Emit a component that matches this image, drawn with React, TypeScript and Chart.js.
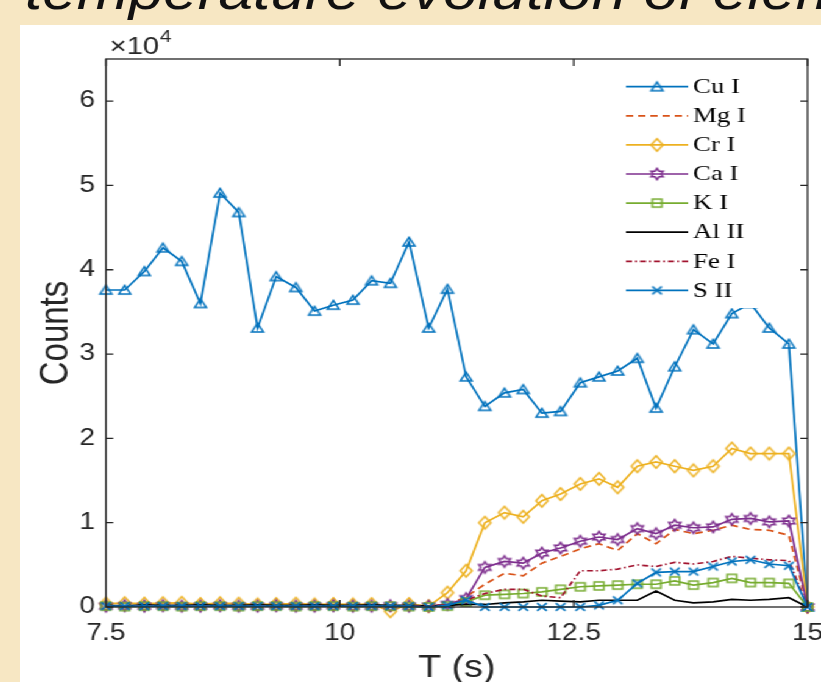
import React, { useEffect, useRef } from 'react';
import { Chart, registerables } from 'chart.js';

Chart.register(...registerables);

// ---- data (counts) ----
const times = [7.5, 7.7, 7.91, 8.11, 8.31, 8.51, 8.72, 8.92, 9.12, 9.32, 9.53, 9.73, 9.93, 10.14, 10.34, 10.54, 10.74, 10.95, 11.15, 11.35, 11.55, 11.76, 11.96, 12.16, 12.36, 12.57, 12.77, 12.97, 13.18, 13.38, 13.58, 13.78, 13.99, 14.19, 14.39, 14.59, 14.8, 15.0];

const cuI = [37600, 37600, 39800, 42600, 41000, 36000, 49100, 46800, 33100, 39200, 37900, 35100, 35800, 36400, 38700, 38400, 43300, 33100, 37700, 27300, 23800, 25400, 25800, 23000, 23200, 26600, 27300, 28000, 29500, 23600, 28500, 32900, 31200, 34800, 36000, 33100, 31200, 0];
const mgI = [100, 150, 100, 100, 150, 100, 100, 150, 100, 100, 150, 100, 100, 150, 100, 100, 150, 100, 300, 1200, 2700, 4000, 3700, 5200, 6000, 6900, 7500, 6700, 8700, 7500, 9200, 8700, 9100, 9700, 9200, 9100, 8500, 0];
const crI = [400, 450, 400, 450, 500, 350, 450, 400, 300, 350, 400, 300, 350, 300, 350, -500, 350, 100, 1700, 4300, 10000, 11200, 10700, 12600, 13400, 14600, 15200, 14200, 16700, 17200, 16700, 16200, 16700, 18800, 18200, 18200, 18200, 0];
const caI = [100, 150, 100, 150, 100, 100, 150, 100, 100, 150, 100, 100, 150, 100, 100, 150, 100, 100, 300, 1000, 4700, 5400, 5200, 6400, 7000, 7800, 8300, 8000, 9300, 8700, 9700, 9400, 9500, 10400, 10500, 10100, 10200, 0];
const kI = [100, 50, 100, 100, 50, 100, 100, 50, 100, 100, 50, 100, 100, 50, 100, 100, 50, 0, 100, 600, 1400, 1500, 1600, 1800, 2100, 2400, 2500, 2600, 2700, 2700, 3100, 2600, 2900, 3400, 2900, 2900, 2800, 0];
const alII = [200, 150, 250, 200, 200, 250, 200, 200, 250, 200, 200, 250, 200, 200, 250, 200, 200, 100, 200, 300, 300, 500, 600, 800, 700, 600, 800, 800, 800, 1900, 800, 500, 600, 900, 800, 900, 1100, 0];
const feI = [100, 100, 150, 100, 100, 150, 100, 100, 150, 100, 100, 150, 100, 100, 150, 100, 100, 100, 300, 800, 1600, 2100, 2100, 1300, 1100, 4300, 4300, 4500, 5000, 4800, 5300, 5100, 5400, 6000, 5800, 5600, 5500, 0];
const sII = [100, 100, 100, 100, 100, 100, 100, 100, 100, 100, 100, 100, 100, 100, 100, 100, 100, 0, 200, 800, 0, 0, 0, 0, 0, 0, 200, 800, 2800, 4100, 4200, 4200, 4800, 5400, 5600, 5100, 4900, 0];

const seriesNames = ['Cu I', 'Mg I', 'Cr I', 'Ca I', 'K I', 'Al II', 'Fe I', 'S II'];
const seriesValues = [cuI, mgI, crI, caI, kI, alII, feI, sII];

const xTickValues = [7.5, 10, 12.5, 15];
const yTickValues = [0, 10000, 20000, 30000, 40000, 50000, 60000];
const xTitle = 'T (s)';
const yTitle = 'Counts';
const pageTitle = 'temperature evolution of elements';

// ---- styles ----
const seriesColors = ['#0072BD', '#D95319', '#EDB120', '#7E2F8E', '#77AC30', '#000000', '#A2142F', '#0072BD'];
const seriesDash = [[], [6, 4], [], [], [], [], [5, 2.5, 1.5, 2.5], []];
const seriesMarkers = ['triangle', 'none', 'diamond', 'hexagram', 'square', 'none', 'none', 'x'];

const AXIS = '#262626';
const STRETCH = 1.2192;
const CW = 657;
const CH = 662;
const LW = 1.7;

function makeMarker(kind: string, color: string): HTMLCanvasElement | null {
  if (kind === 'none') return null;
  const c = document.createElement('canvas');
  c.width = 16;
  c.height = 16;
  const g = c.getContext('2d') as CanvasRenderingContext2D;
  g.strokeStyle = color;
  g.lineWidth = 1.5;
  g.translate(8, 8);
  g.beginPath();
  if (kind === 'triangle') {
    g.moveTo(0, -4.6);
    g.lineTo(4.8, 3.9);
    g.lineTo(-4.8, 3.9);
    g.closePath();
  } else if (kind === 'diamond') {
    g.moveTo(0, -6.3);
    g.lineTo(4.9, 0);
    g.lineTo(0, 6.3);
    g.lineTo(-4.9, 0);
    g.closePath();
  } else if (kind === 'square') {
    g.rect(-3.9, -3.9, 7.8, 7.8);
  } else if (kind === 'x') {
    g.moveTo(-3.9, -3.9);
    g.lineTo(3.9, 3.9);
    g.moveTo(3.9, -3.9);
    g.lineTo(-3.9, 3.9);
  } else if (kind === 'hexagram') {
    const ro = 5.7;
    const ri = ro / Math.sqrt(3);
    for (let i = 0; i < 12; i++) {
      const ang = (-90 + i * 30) * Math.PI / 180;
      const r = i % 2 === 0 ? ro : ri;
      const px = r * Math.cos(ang);
      const py = r * Math.sin(ang);
      if (i === 0) g.moveTo(px, py);
      else g.lineTo(px, py);
    }
    g.closePath();
  }
  g.stroke();
  return c;
}

function framePlugin(markers: (HTMLCanvasElement | null)[]) {
  return {
    id: 'matlabFrame',
    afterDatasetsDraw(chart: any) {
      const { ctx, chartArea: a, scales } = chart;
      ctx.save();
      // legend box
      const bx = 486, by = 42, bw = a.right - 1 - 486, bh = 241;
      ctx.fillStyle = '#ffffff';
      ctx.fillRect(bx, by, bw, bh);
      const rowH = 29.1;
      seriesNames.forEach((name, i) => {
        const y = 61.7 + i * rowH;
        ctx.strokeStyle = seriesColors[i];
        ctx.lineWidth = LW;
        ctx.setLineDash(seriesDash[i]);
        ctx.beginPath();
        ctx.moveTo(497, y);
        ctx.lineTo(548, y);
        ctx.stroke();
        ctx.setLineDash([]);
        const m = markers[i];
        if (m) ctx.drawImage(m, 522.5 - m.width / 2, y - m.height / 2);
        ctx.fillStyle = '#000000';
        ctx.font = '22px "Liberation Serif", "Times New Roman", serif';
        ctx.textAlign = 'left';
        ctx.textBaseline = 'middle';
        ctx.fillText(name, 552, y + 0.5);
      });
      // axes box
      ctx.strokeStyle = AXIS;
      ctx.lineWidth = 1.3;
      ctx.strokeRect(a.left, a.top, a.right - a.left, a.bottom - a.top);
      ctx.beginPath();
      xTickValues.forEach((v) => {
        const px = scales.x.getPixelForValue(v);
        ctx.moveTo(px, a.bottom);
        ctx.lineTo(px, a.bottom - 7);
        ctx.moveTo(px, a.top);
        ctx.lineTo(px, a.top + 7);
      });
      yTickValues.forEach((v) => {
        const py = scales.y.getPixelForValue(v);
        ctx.moveTo(a.left, py);
        ctx.lineTo(a.left + 6, py);
        ctx.moveTo(a.right, py);
        ctx.lineTo(a.right - 6, py);
      });
      ctx.stroke();
      // exponent label
      ctx.fillStyle = AXIS;
      ctx.textAlign = 'left';
      ctx.textBaseline = 'alphabetic';
      ctx.font = '24px "Liberation Sans", Arial, sans-serif';
      const base = '\u00d710';
      ctx.fillText(base, a.left + 3, 29);
      const w = ctx.measureText(base).width;
      ctx.font = '17px "Liberation Sans", Arial, sans-serif';
      ctx.fillText('4', a.left + 3 + w + 0.5, 17);
      ctx.restore();
    },
  };
}

export default function App() {
  const ref = useRef<HTMLCanvasElement>(null);
  useEffect(() => {
    const canvas = ref.current as HTMLCanvasElement;
    Chart.defaults.font.family = '"Liberation Sans", Arial, sans-serif';
    const markers = seriesMarkers.map((m, i) => makeMarker(m, seriesColors[i]));
    const datasets = seriesNames.map((name, i) => ({
      label: name,
      data: times.map((t, j) => ({ x: t, y: seriesValues[i][j] })),
      borderColor: seriesColors[i],
      backgroundColor: seriesColors[i],
      borderWidth: LW,
      borderDash: seriesDash[i],
      pointStyle: (markers[i] || 'circle') as any,
      pointRadius: markers[i] ? 6 : 0,
      pointHoverRadius: 0,
      tension: 0,
      fill: false,
      clip: false as any,
      order: seriesNames.length - i,
    }));
    const chart = new Chart(canvas, {
      type: 'line',
      data: { datasets },
      options: {
        responsive: false,
        animation: false,
        events: [],
        layout: { padding: { left: 0, top: 34, right: 11, bottom: 0 } },
        plugins: { legend: { display: false }, tooltip: { enabled: false } },
        scales: {
          x: {
            type: 'linear',
            min: 7.5,
            max: 15,
            afterBuildTicks: (s: any) => {
              s.ticks = xTickValues.map((v) => ({ value: v }));
            },
            ticks: {
              font: { size: 23 },
              color: AXIS,
              padding: 12.7,
              maxRotation: 0,
              autoSkip: false,
              callback: (v: any) => String(v),
            },
            grid: { display: false, drawTicks: false },
            border: { display: false },
            title: { display: true, text: xTitle, font: { size: 31 }, color: AXIS, padding: { top: 0, bottom: 0 } },
            afterFit: (s: any) => {
              s.height = 80;
              s.paddingLeft = 0;
              s.paddingRight = 0;
            },
          },
          y: {
            type: 'linear',
            min: 0,
            max: 65000,
            afterBuildTicks: (s: any) => {
              s.ticks = yTickValues.map((v) => ({ value: v }));
            },
            ticks: {
              font: { size: 23 },
              color: AXIS,
              padding: 9,
              callback: (v: any) => String(Number(v) / 10000),
            },
            grid: { display: false, drawTicks: false },
            border: { display: false },
            title: { display: true, text: yTitle, font: { size: 33 }, color: AXIS, padding: { top: 10.4, bottom: 0 } },
            afterFit: (s: any) => {
              s.width = 70.5;
              s.paddingTop = 0;
              s.paddingBottom = 0;
            },
          },
        },
      },
      plugins: [framePlugin(markers)],
    });
    return () => chart.destroy();
  }, []);

  return (
    <div style={{ position: 'fixed', left: 0, top: 0, width: 821, height: 682, overflow: 'hidden', background: '#F7E7C3' }}>
      <div
        style={{
          position: 'absolute',
          left: 25,
          top: -34,
          whiteSpace: 'nowrap',
          font: 'italic 51px/51px "Liberation Sans", Arial, sans-serif',
          color: '#111',
          transform: `scaleX(${STRETCH})`,
          transformOrigin: '0 0',
        }}
      >
        {pageTitle}
      </div>
      <div
        style={{
          position: 'absolute',
          left: 20,
          top: 25,
          width: CW,
          height: CH,
          background: '#ffffff',
          transform: `scaleX(${STRETCH})`,
          transformOrigin: '0 0',
        }}
      >
        <canvas ref={ref} width={CW} height={CH} style={{ width: CW, height: CH, display: 'block' }} />
      </div>
    </div>
  );
}
